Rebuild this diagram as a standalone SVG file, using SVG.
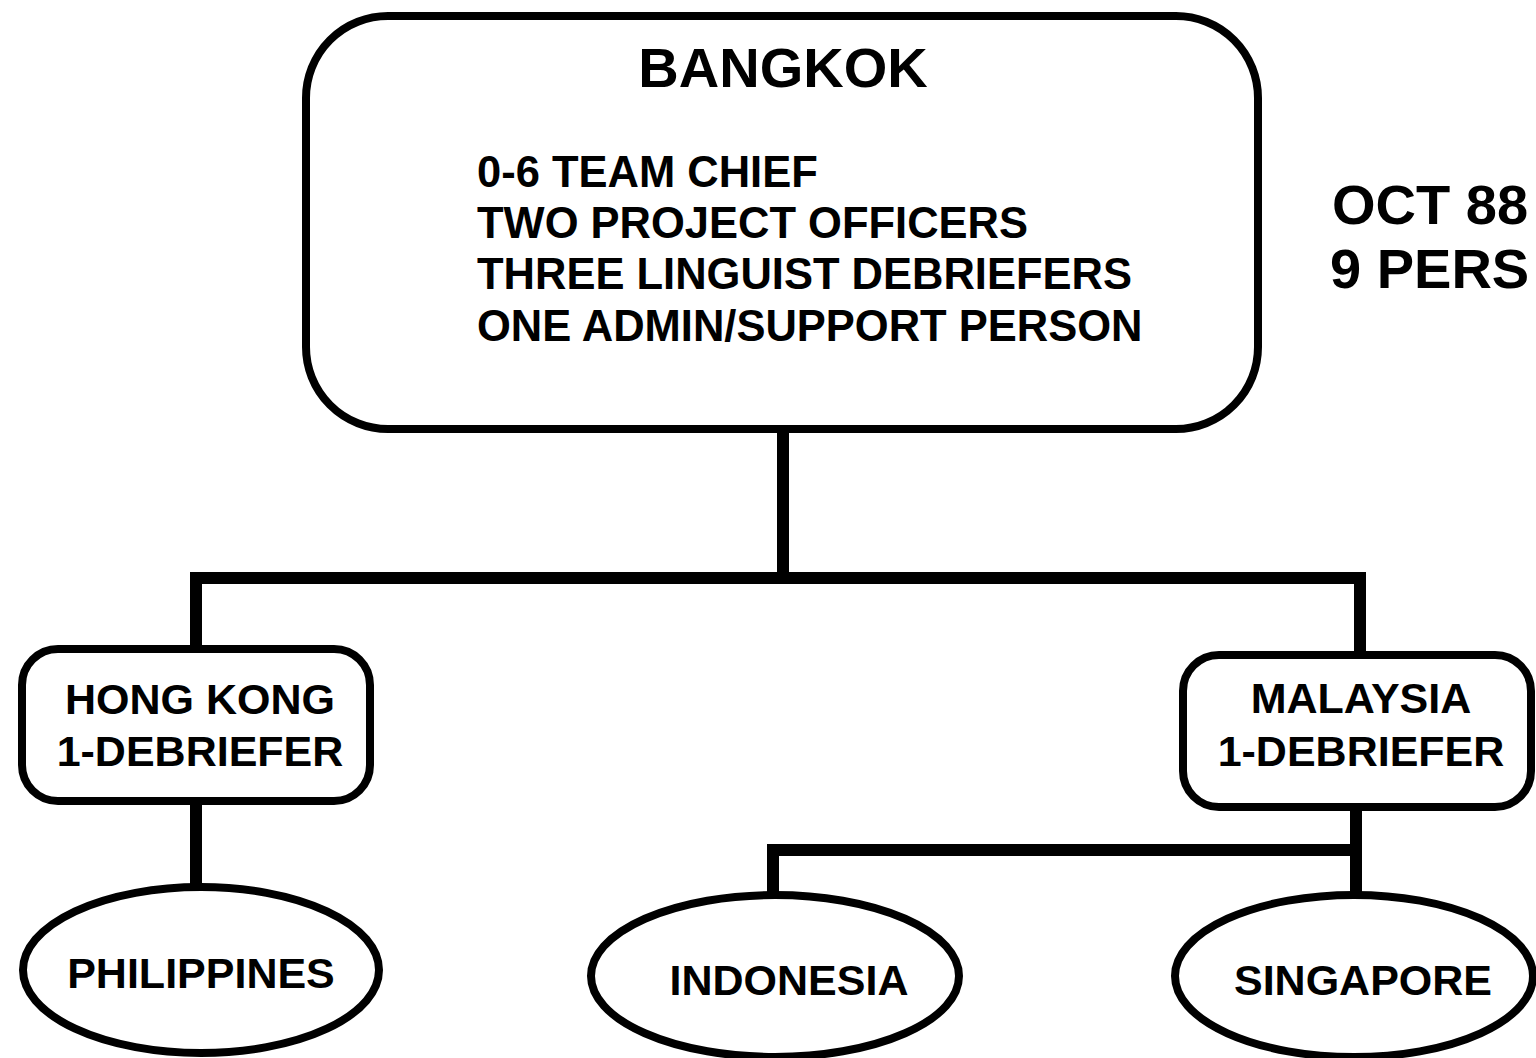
<svg xmlns="http://www.w3.org/2000/svg" width="1536" height="1058" viewBox="0 0 1536 1058">
  <style>
    .box { fill: #fff; stroke: #000; stroke-width: 8; }
    .link { fill: none; stroke: #000; stroke-width: 12; stroke-linejoin: miter; stroke-linecap: butt; }
    text { font-family: "Liberation Sans", Arial, Helvetica, sans-serif; font-weight: bold; fill: #000; }
    .mid { text-anchor: middle; }
  </style>
  <rect width="1536" height="1058" fill="#fff"/>

  <!-- connectors -->
  <g id="connectors">
    <path class="link" d="M783 432 V578"/>
    <path class="link" d="M196 650 V578 H1360 V656"/>
    <path class="link" d="M196 803 V887"/>
    <path class="link" d="M1356 810 V895"/>
    <path class="link" d="M773 895 V850 H1356"/>
  </g>

  <!-- headquarters -->
  <g id="bangkok">
    <rect class="box" x="306" y="16" width="952" height="413" rx="82" ry="82"/>
    <text class="mid" x="783" y="87" font-size="56">BANGKOK</text>
    <text x="477" y="187" font-size="43.5">0-6 TEAM CHIEF</text>
    <text x="477" y="238" font-size="43.5">TWO PROJECT OFFICERS</text>
    <text x="477" y="289" font-size="43.5">THREE LINGUIST DEBRIEFERS</text>
    <text x="477" y="341" font-size="43.5">ONE ADMIN/SUPPORT PERSON</text>
  </g>

  <g id="date-label">
    <text x="1332" y="224" font-size="56">OCT 88</text>
    <text x="1330" y="288" font-size="56">9 PERS</text>
  </g>

  <g id="hong-kong">
    <rect class="box" x="22" y="649" width="348" height="152" rx="36" ry="36"/>
    <text class="mid" x="200" y="714" font-size="43">HONG KONG</text>
    <text class="mid" x="200" y="766" font-size="43">1-DEBRIEFER</text>
  </g>

  <g id="malaysia">
    <rect class="box" x="1183" y="655" width="348" height="152" rx="36" ry="36"/>
    <text class="mid" x="1361" y="713" font-size="43">MALAYSIA</text>
    <text class="mid" x="1361" y="766" font-size="43">1-DEBRIEFER</text>
  </g>

  <g id="philippines">
    <ellipse class="box" cx="201" cy="970" rx="178" ry="83"/>
    <text class="mid" x="201" y="988" font-size="43">PHILIPPINES</text>
  </g>

  <g id="indonesia">
    <ellipse class="box" cx="775" cy="976" rx="184" ry="81"/>
    <text class="mid" x="789" y="995" font-size="43">INDONESIA</text>
  </g>

  <g id="singapore">
    <ellipse class="box" cx="1354" cy="976" rx="179" ry="81"/>
    <text class="mid" x="1363" y="995" font-size="43">SINGAPORE</text>
  </g>
</svg>
